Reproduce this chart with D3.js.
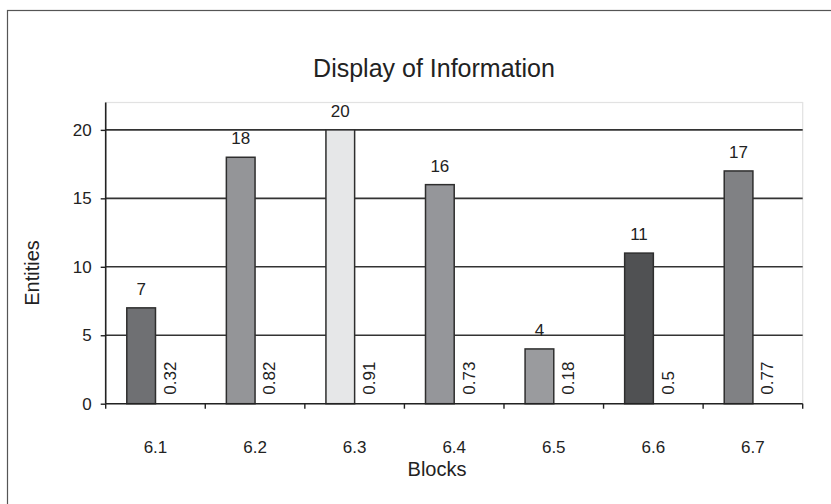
<!DOCTYPE html>
<html>
<head>
<meta charset="utf-8">
<script src="https://cdn.jsdelivr.net/npm/d3@7"></script>
<style>
  html, body { margin: 0; padding: 0; background: #fff; }
  svg { display: block; font-family: "Liberation Sans", Arial, sans-serif; }
</style>
</head>
<body>
<svg id="chart" width="831" height="504"></svg>
<script>
// Blocks and the number of entities found in each, plus the ratio per block
const blocks = ["6.1", "6.2", "6.3", "6.4", "6.5", "6.6", "6.7"];
const entities = [7, 18, 20, 16, 4, 11, 17];
const ratios = [0.32, 0.82, 0.91, 0.73, 0.18, 0.5, 0.77];
const barColors = ["#6f7073", "#949598", "#e6e7e8", "#95969a", "#9a9b9e", "#505153", "#808184"];
const yTicks = [0, 5, 10, 15, 20];

const svg = d3.select("#chart");
const plot = { left: 105.7, top: 102.5, right: 802.7, bottom: 403.7 };
const labelSize = 17;

// outer frame of the chart
svg.append("rect")
  .attr("x", 7.5).attr("y", 10.5)
  .attr("width", 880).attr("height", 560)
  .attr("fill", "#fff").attr("stroke", "#555").attr("stroke-width", 1.2);

const x = d3.scaleBand().domain(blocks).range([plot.left, plot.right]).padding(0);
const sub = d3.scaleBand().domain(["entities", "ratio"]).range([0, x.bandwidth()])
  .paddingInner(0).paddingOuter(0.735);
const y = d3.scaleLinear().domain([0, 22]).range([plot.bottom, plot.top]);

// plot area border (light)
svg.append("rect")
  .attr("x", plot.left).attr("y", plot.top)
  .attr("width", plot.right - plot.left).attr("height", plot.bottom - plot.top)
  .attr("fill", "none").attr("stroke", "#e2e2e2").attr("stroke-width", 1.2);

// horizontal gridlines
svg.append("g").selectAll("line")
  .data(yTicks.filter(d => d > 0))
  .join("line")
  .attr("x1", plot.left).attr("x2", plot.right)
  .attr("y1", d => y(d)).attr("y2", d => y(d))
  .attr("stroke", "#333").attr("stroke-width", 1.6);

// title
svg.append("text")
  .attr("x", 434).attr("y", 77)
  .attr("text-anchor", "middle")
  .attr("font-size", 25).attr("fill", "#222")
  .text("Display of Information");

// bars
svg.append("g").selectAll("rect")
  .data(blocks)
  .join("rect")
  .attr("x", (d) => x(d) + sub("entities"))
  .attr("y", (d, i) => y(entities[i]))
  .attr("width", sub.bandwidth())
  .attr("height", (d, i) => y(0) - y(entities[i]))
  .attr("fill", (d, i) => barColors[i])
  .attr("stroke", "#2e2e2e").attr("stroke-width", 1.5);

// value labels above bars
svg.append("g").selectAll("text")
  .data(blocks)
  .join("text")
  .attr("x", d => x(d) + sub("entities") + sub.bandwidth() / 2)
  .attr("y", (d, i) => y(entities[i]) - 13)
  .attr("text-anchor", "middle")
  .attr("font-size", labelSize).attr("fill", "#222")
  .text((d, i) => entities[i]);

// ratio labels, rotated, beside each bar
svg.append("g").selectAll("text")
  .data(blocks)
  .join("text")
  .attr("transform", d => `translate(${x(d) + sub("ratio") + sub.bandwidth() / 2},${y(0) - 9}) rotate(-90)`)
  .attr("dy", "0.35em")
  .attr("text-anchor", "start")
  .attr("font-size", labelSize).attr("fill", "#222")
  .text((d, i) => ratios[i]);

// y axis
const yAxis = svg.append("g")
  .attr("transform", `translate(${plot.left},0)`)
  .call(d3.axisLeft(y).tickValues(yTicks).tickSize(5).tickPadding(9));
yAxis.select(".domain").attr("stroke", "#222").attr("stroke-width", 1.6)
  .attr("d", `M0,${plot.top}V${plot.bottom}`);
yAxis.selectAll(".tick line").attr("stroke", "#222").attr("stroke-width", 1.4);
yAxis.selectAll(".tick text").attr("font-size", labelSize).attr("fill", "#222")
  .attr("font-family", "'Liberation Sans', Arial, sans-serif");

// x axis: ticks at category boundaries
const xAxisG = svg.append("g");
xAxisG.append("line")
  .attr("x1", plot.left).attr("x2", plot.right)
  .attr("y1", plot.bottom).attr("y2", plot.bottom)
  .attr("stroke", "#222").attr("stroke-width", 1.6);
const edges = blocks.map(d => x(d)).concat([x(blocks[blocks.length - 1]) + x.bandwidth()]);
xAxisG.selectAll("line.tk")
  .data(edges)
  .join("line").attr("class", "tk")
  .attr("x1", d => d).attr("x2", d => d)
  .attr("y1", plot.bottom).attr("y2", plot.bottom + 5)
  .attr("stroke", "#222").attr("stroke-width", 1.4);
xAxisG.selectAll("text")
  .data(blocks)
  .join("text")
  .attr("x", d => x(d) + x.bandwidth() / 2)
  .attr("y", 453)
  .attr("text-anchor", "middle")
  .attr("font-size", labelSize).attr("fill", "#222")
  .text(d => d);

// axis titles
svg.append("text")
  .attr("x", 437).attr("y", 476)
  .attr("text-anchor", "middle")
  .attr("font-size", 20).attr("fill", "#222")
  .text("Blocks");
svg.append("text")
  .attr("transform", "translate(39,273) rotate(-90)")
  .attr("text-anchor", "middle")
  .attr("font-size", 20).attr("fill", "#222")
  .text("Entities");
</script>
</body>
</html>
